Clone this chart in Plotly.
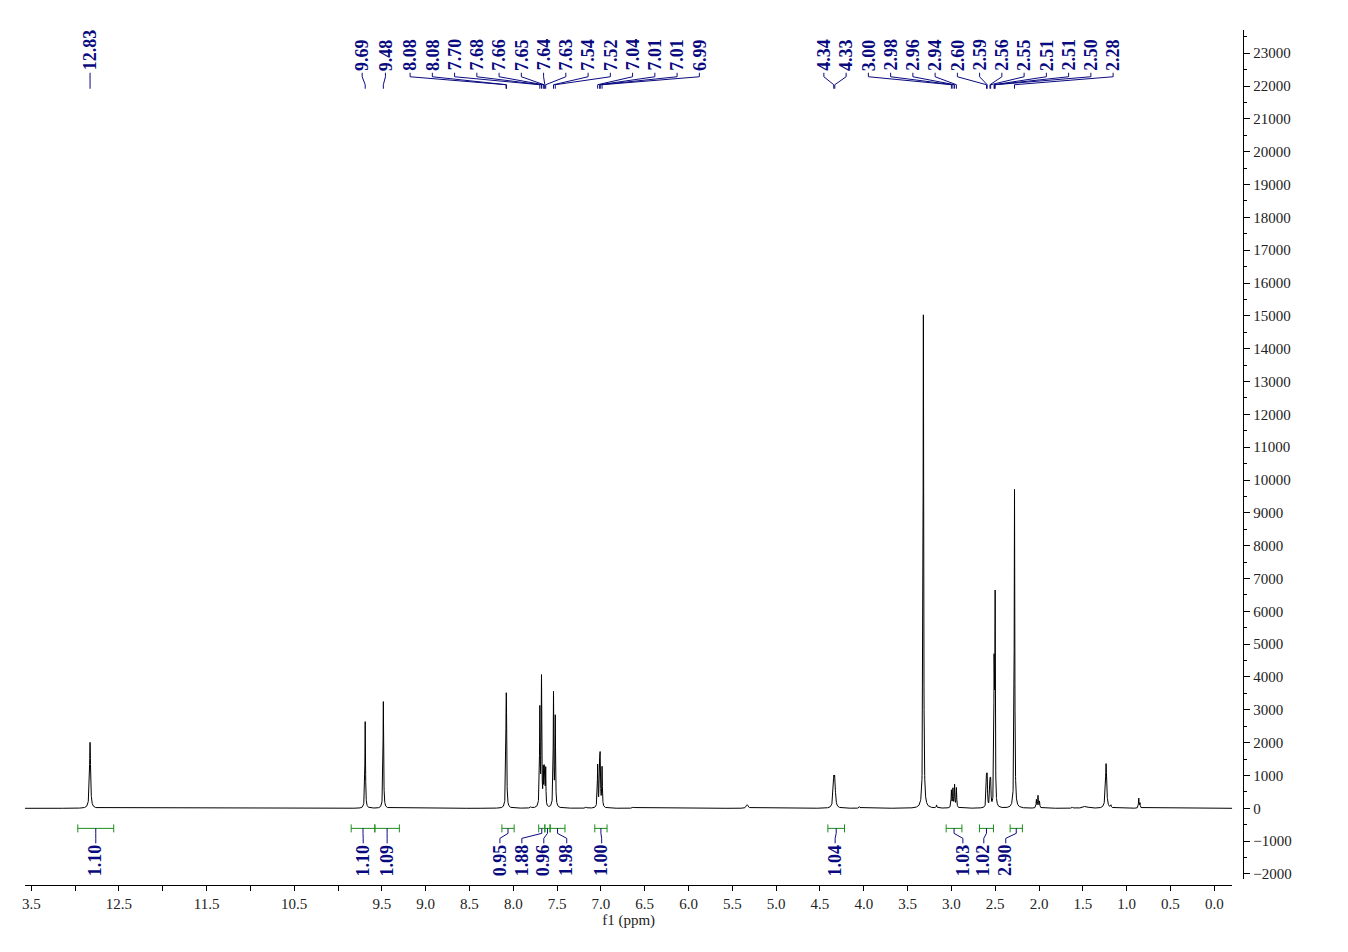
import numpy as np
import plotly.graph_objects as go

# ---------------- data ----------------
# resolved lines of the 1H spectrum: centre (ppm), peak intensity, half-width (ppm)
peak_ppm = [12.830, 9.690, 9.483, 8.082, 8.078, 7.800, 7.697, 7.678, 7.658, 7.648,
            7.640, 7.630, 7.541, 7.521, 7.170, 7.037, 7.014, 7.008, 6.987, 6.630,
            5.330, 4.343, 4.331, 4.050, 3.320, 3.170, 3.000, 2.983, 2.964, 2.943,
            2.600, 2.592, 2.560, 2.552, 2.513, 2.508, 2.501, 2.280, 2.030, 2.012,
            1.995, 1.620, 1.470, 1.235, 1.180, 0.862, 0.848]
peak_height = [2010, 2640, 3250, 2200, 2200, 40, 2950, 3900, 1000, 1000,
               1000, 1100, 3450, 2710, 40, 1280, 1250, 1250, 1200, 40,
               110, 760, 760, 50, 15030, 90, 520, 560, 680, 600,
               870, 870, 730, 730, 3800, 2000, 6100, 9710, 250, 370,
               200, 40, 60, 1360, 80, 300, 150]
peak_width = [0.007, 0.004, 0.004, 0.004, 0.004, 0.006, 0.004, 0.004, 0.003, 0.003,
              0.003, 0.003, 0.004, 0.004, 0.006, 0.004, 0.004, 0.004, 0.004, 0.010,
              0.012, 0.008, 0.008, 0.006, 0.004, 0.004, 0.004, 0.004, 0.004, 0.004,
              0.004, 0.004, 0.004, 0.004, 0.003, 0.003, 0.003, 0.004, 0.004, 0.004,
              0.004, 0.005, 0.030, 0.008, 0.005, 0.004, 0.004]

# peak labels (top)
label_ppm = [12.830, 9.690, 9.483, 8.082, 8.078, 7.697, 7.678, 7.658, 7.648, 7.640,
             7.630, 7.541, 7.521, 7.037, 7.014, 7.008, 6.987,
             4.343, 4.331, 3.000, 2.983, 2.964, 2.943, 2.600, 2.592, 2.560,
             2.552, 2.513, 2.508, 2.501, 2.280]
label_text = ["12.83", "9.69", "9.48", "8.08", "8.08", "7.70", "7.68", "7.66", "7.65", "7.64",
              "7.63", "7.54", "7.52", "7.04", "7.01", "7.01", "6.99",
              "4.34", "4.33", "3.00", "2.98", "2.96", "2.94", "2.60", "2.59", "2.56",
              "2.55", "2.51", "2.51", "2.50", "2.28"]

# integrals (bottom)
integral_start = [12.97, 9.85, 9.58, 8.13, 7.71, 7.64, 7.58, 7.07, 4.41, 3.06, 2.68, 2.33]
integral_end = [12.56, 9.58, 9.30, 7.99, 7.64, 7.58, 7.41, 6.93, 4.22, 2.88, 2.52, 2.19]
integral_text = ["1.10", "1.10", "1.09", "0.95", "1.88", "0.96", "1.98", "1.00",
                 "1.04", "1.03", "1.02", "2.90"]

# x axis ticks
x_tickvals = [13.5, 13.0, 12.5, 12.0, 11.5, 11.0, 10.5, 10.0, 9.5, 9.0, 8.5, 8.0, 7.5, 7.0,
              6.5, 6.0, 5.5, 5.0, 4.5, 4.0, 3.5, 3.0, 2.5, 2.0, 1.5, 1.0, 0.5, 0.0]
x_ticktext = ["3.5", "", "12.5", "", "11.5", "", "10.5", "", "9.5", "9.0", "8.5", "8.0",
              "7.5", "7.0", "6.5", "6.0", "5.5", "5.0", "4.5", "4.0", "3.5", "3.0",
              "2.5", "2.0", "1.5", "1.0", "0.5", "0.0"]

# ---------------- layout geometry (pixels) ----------------
W, H = 1348, 952
X0, X1 = 22, 1232              # x-axis extent in px
R0, R1 = 13.573, -0.205        # ppm at X0, X1
YTOP, YBOT = 30, 882           # y-axis extent in px
V_TOP, V_BOT = 23710, -2160
XAXIS_PX = 888
YAXIS_PX = 1243

NAVY = "#0a0a80"
GREEN = "#1e8c1e"
SERIF = "Liberation Serif"


def px2ppm(px):
    return R0 - (px - X0) / (X1 - X0) * (R0 - R1)


def py(p):
    return 1 - p / H


# ---------------- spectrum ----------------
grid = np.round(np.arange(R1, R0, 0.001), 3)
x = np.unique(np.concatenate([grid, np.array(peak_ppm)]))
y = np.zeros_like(x)
for c, h, w in zip(peak_ppm, peak_height, peak_width):
    y += h / (1 + ((x - c) / w) ** 2)

fig = go.Figure()
fig.add_trace(go.Scatter(x=x, y=y, mode="lines",
                         line=dict(color="#000000", width=1),
                         hoverinfo="skip", showlegend=False))

shapes = []
annotations = []

# ---------------- peak labels ----------------
lab_px = [None, 360.0, 383.3] + [408.0 + 22.3 * k for k in range(14)] + \
         [822.7 + 22.3 * k for k in range(14)]
for i, (pk, txt) in enumerate(zip(label_ppm, label_text)):
    if lab_px[i] is None:
        lx = pk
        path = f"M {pk},{py(73)} L {pk},{py(89)}"
    else:
        lx = px2ppm(lab_px[i])
        path = (f"M {lx},{py(73)} L {lx},{py(77)} L {pk},{py(85)} L {pk},{py(89)}")
    shapes.append(dict(type="path", xref="x", yref="paper", path=path,
                       line=dict(color=NAVY, width=1)))
    annotations.append(dict(x=lx, y=py(72), xref="x", yref="paper",
                            text=f"<b>{txt}</b>", textangle=-90, showarrow=False,
                            xanchor="center", yanchor="bottom",
                            font=dict(family=SERIF, size=18, color=NAVY),
                            borderpad=0))

# ---------------- integrals ----------------
int_lab_px = [93, 361, 385, 498, 520, 542, 565, 600, 834, 962, 983, 1005]
YB = 831
for s, e, txt, lpx in zip(integral_start, integral_end, integral_text, int_lab_px):
    bpath = (f"M {s},{py(YB)} L {e},{py(YB)} "
             f"M {s},{py(YB - 4)} L {s},{py(YB + 4)} "
             f"M {e},{py(YB - 4)} L {e},{py(YB + 4)}")
    shapes.append(dict(type="path", xref="x", yref="paper", path=bpath,
                       line=dict(color=GREEN, width=1)))
    cx = (s + e) / 2
    lx = px2ppm(lpx)
    cpath = (f"M {cx},{py(YB)} L {cx},{py(836)} L {lx},{py(841)} L {lx},{py(846)}")
    shapes.append(dict(type="path", xref="x", yref="paper", path=cpath,
                       line=dict(color=NAVY, width=1)))
    annotations.append(dict(x=lx, y=py(846), xref="x", yref="paper",
                            text=f"<b>{txt}</b>", textangle=-90, showarrow=False,
                            xanchor="center", yanchor="top",
                            font=dict(family=SERIF, size=18, color=NAVY),
                            borderpad=0))

fig.update_layout(
    width=W, height=H,
    margin=dict(l=0, r=0, t=0, b=0),
    paper_bgcolor="white", plot_bgcolor="white",
    showlegend=False,
    shapes=shapes, annotations=annotations,
    xaxis=dict(
        domain=[X0 / W, X1 / W], range=[R0, R1],
        anchor="free", position=py(XAXIS_PX),
        showline=True, linecolor="#000", linewidth=1,
        ticks="outside", ticklen=5, tickcolor="#000",
        tickvals=x_tickvals, ticktext=x_ticktext,
        tickfont=dict(family=SERIF, size=15, color="#222"),
        showgrid=False, zeroline=False,
        title=dict(text="f1 (ppm)", font=dict(family=SERIF, size=15, color="#222"),
                   standoff=3),
    ),
    yaxis=dict(
        domain=[py(YBOT), py(YTOP)], range=[V_BOT, V_TOP],
        anchor="free", position=YAXIS_PX / W, side="right",
        showline=True, linecolor="#000", linewidth=1,
        ticks="outside", ticklen=6, tickcolor="#000",
        dtick=1000, tick0=0, tickformat="d",
        tickfont=dict(family=SERIF, size=15, color="#222"),
        minor=dict(dtick=500, tick0=0, ticks="outside", ticklen=3, tickcolor="#000",
                   showgrid=False),
        showgrid=False, zeroline=False,
    ),
)

fig.write_html("out.html")
